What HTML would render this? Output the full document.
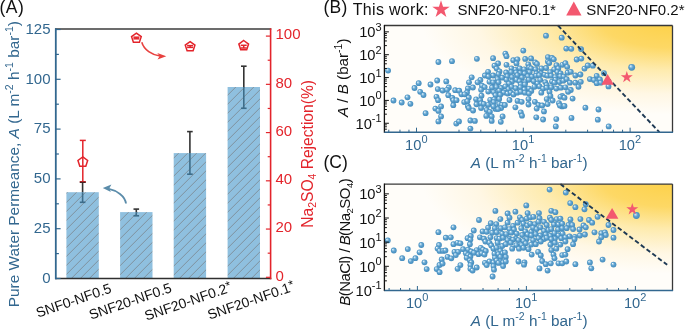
<!DOCTYPE html>
<html><head><meta charset="utf-8"><style>
html,body{margin:0;padding:0;background:#fff;}
svg{display:block;font-family:"Liberation Sans", sans-serif;will-change:transform;}
</style></head><body>
<svg width="685" height="330" viewBox="0 0 685 330">
<rect width="685" height="330" fill="#fff"/>
<text x="-0.6" y="12.8" font-size="17.5" letter-spacing="0.5" fill="#111">(A)</text>
<defs>
<pattern id="hatch" patternUnits="userSpaceOnUse" width="9" height="9" patternTransform="translate(-1.2,0)">
<rect width="9" height="9" fill="#8fc0df"/>
<path d="M-2,2 L2,-2 M0,9 L9,0 M7,11 L11,7" stroke="#7f919d" stroke-width="1.0"/>
</pattern>
<radialGradient id="goldB" gradientUnits="userSpaceOnUse" cx="672" cy="22" r="250" gradientTransform="translate(672 22) scale(1 0.37) translate(-672 -22)">
<stop offset="0" stop-color="#fdd148"/>
<stop offset="0.28" stop-color="#fdd865"/>
<stop offset="0.52" stop-color="#feebae"/>
<stop offset="0.78" stop-color="#fff7e4"/>
<stop offset="1" stop-color="#fffdf9"/>
</radialGradient>
<radialGradient id="goldC" gradientUnits="userSpaceOnUse" cx="672" cy="181" r="250" gradientTransform="translate(672 181) scale(1 0.37) translate(-672 -181)">
<stop offset="0" stop-color="#fdd148"/>
<stop offset="0.28" stop-color="#fdd865"/>
<stop offset="0.52" stop-color="#feebae"/>
<stop offset="0.78" stop-color="#fff7e4"/>
<stop offset="1" stop-color="#fffdf9"/>
</radialGradient>
<radialGradient id="ball" cx="0.5" cy="0.5" r="0.55" fx="0.32" fy="0.3">
<stop offset="0" stop-color="#fbfdff"/>
<stop offset="0.2" stop-color="#acd3ea"/>
<stop offset="0.5" stop-color="#5fa2cf"/>
<stop offset="1" stop-color="#3f88ba"/>
</radialGradient>
</defs>
<rect x="66.39999999999999" y="192.2" width="32.4" height="86.30000000000001" fill="url(#hatch)"/>
<line x1="82.6" y1="182" x2="82.6" y2="192.2" stroke="#333333" stroke-width="1.6"/>
<line x1="82.6" y1="192.2" x2="82.6" y2="202.3" stroke="#3d6d8a" stroke-width="1.6"/>
<line x1="79.8" y1="182" x2="85.39999999999999" y2="182" stroke="#333333" stroke-width="1.6"/>
<line x1="79.8" y1="202.3" x2="85.39999999999999" y2="202.3" stroke="#3d6d8a" stroke-width="1.6"/>
<rect x="120.10000000000001" y="212.1" width="32.4" height="66.4" fill="url(#hatch)"/>
<line x1="136.3" y1="209.1" x2="136.3" y2="212.1" stroke="#333333" stroke-width="1.6"/>
<line x1="136.3" y1="212.1" x2="136.3" y2="215.8" stroke="#3d6d8a" stroke-width="1.6"/>
<line x1="133.5" y1="209.1" x2="139.10000000000002" y2="209.1" stroke="#333333" stroke-width="1.6"/>
<line x1="133.5" y1="215.8" x2="139.10000000000002" y2="215.8" stroke="#3d6d8a" stroke-width="1.6"/>
<rect x="173.70000000000002" y="153.1" width="32.4" height="125.4" fill="url(#hatch)"/>
<line x1="189.9" y1="131.6" x2="189.9" y2="153.1" stroke="#333333" stroke-width="1.6"/>
<line x1="189.9" y1="153.1" x2="189.9" y2="174.2" stroke="#3d6d8a" stroke-width="1.6"/>
<line x1="187.1" y1="131.6" x2="192.70000000000002" y2="131.6" stroke="#333333" stroke-width="1.6"/>
<line x1="187.1" y1="174.2" x2="192.70000000000002" y2="174.2" stroke="#3d6d8a" stroke-width="1.6"/>
<rect x="227.60000000000002" y="87" width="32.4" height="191.5" fill="url(#hatch)"/>
<line x1="243.8" y1="66.2" x2="243.8" y2="87" stroke="#333333" stroke-width="1.6"/>
<line x1="243.8" y1="87" x2="243.8" y2="108.3" stroke="#3d6d8a" stroke-width="1.6"/>
<line x1="241.0" y1="66.2" x2="246.60000000000002" y2="66.2" stroke="#333333" stroke-width="1.6"/>
<line x1="241.0" y1="108.3" x2="246.60000000000002" y2="108.3" stroke="#3d6d8a" stroke-width="1.6"/>
<line x1="55" y1="29" x2="271.3" y2="29" stroke="#3b3b3b" stroke-width="1.5"/>
<line x1="55" y1="278.5" x2="271.3" y2="278.5" stroke="#2f2f2f" stroke-width="1.6"/>
<line x1="55.8" y1="28.3" x2="55.8" y2="279.3" stroke="#32678f" stroke-width="1.8"/>
<line x1="270.6" y1="28.3" x2="270.6" y2="279.3" stroke="#e3242b" stroke-width="1.6"/>
<line x1="55.8" y1="278.50" x2="60.6" y2="278.50" stroke="#32678f" stroke-width="1.2"/>
<text x="50.5" y="282.70" font-size="15" fill="#32678f" text-anchor="end">0</text>
<line x1="55.8" y1="228.70" x2="60.6" y2="228.70" stroke="#32678f" stroke-width="1.2"/>
<text x="50.5" y="232.90" font-size="15" fill="#32678f" text-anchor="end">25</text>
<line x1="55.8" y1="178.90" x2="60.6" y2="178.90" stroke="#32678f" stroke-width="1.2"/>
<text x="50.5" y="183.10" font-size="15" fill="#32678f" text-anchor="end">50</text>
<line x1="55.8" y1="129.10" x2="60.6" y2="129.10" stroke="#32678f" stroke-width="1.2"/>
<text x="50.5" y="133.30" font-size="15" fill="#32678f" text-anchor="end">75</text>
<line x1="55.8" y1="79.30" x2="60.6" y2="79.30" stroke="#32678f" stroke-width="1.2"/>
<text x="50.5" y="83.50" font-size="15" fill="#32678f" text-anchor="end">100</text>
<line x1="55.8" y1="29.50" x2="60.6" y2="29.50" stroke="#32678f" stroke-width="1.2"/>
<text x="50.5" y="33.70" font-size="15" fill="#32678f" text-anchor="end">125</text>
<line x1="55.8" y1="253.60" x2="58.9" y2="253.60" stroke="#32678f" stroke-width="1.2"/>
<line x1="55.8" y1="203.80" x2="58.9" y2="203.80" stroke="#32678f" stroke-width="1.2"/>
<line x1="55.8" y1="154.00" x2="58.9" y2="154.00" stroke="#32678f" stroke-width="1.2"/>
<line x1="55.8" y1="104.20" x2="58.9" y2="104.20" stroke="#32678f" stroke-width="1.2"/>
<line x1="55.8" y1="54.40" x2="58.9" y2="54.40" stroke="#32678f" stroke-width="1.2"/>
<line x1="270.6" y1="277.30" x2="265.9" y2="277.30" stroke="#e3242b" stroke-width="1.2"/>
<text x="275.5" y="280.50" font-size="15" fill="#e3242b">0</text>
<line x1="270.6" y1="229.06" x2="265.9" y2="229.06" stroke="#e3242b" stroke-width="1.2"/>
<text x="275.5" y="232.26" font-size="15" fill="#e3242b">20</text>
<line x1="270.6" y1="180.82" x2="265.9" y2="180.82" stroke="#e3242b" stroke-width="1.2"/>
<text x="275.5" y="184.02" font-size="15" fill="#e3242b">40</text>
<line x1="270.6" y1="132.58" x2="265.9" y2="132.58" stroke="#e3242b" stroke-width="1.2"/>
<text x="275.5" y="135.78" font-size="15" fill="#e3242b">60</text>
<line x1="270.6" y1="84.34" x2="265.9" y2="84.34" stroke="#e3242b" stroke-width="1.2"/>
<text x="275.5" y="87.54" font-size="15" fill="#e3242b">80</text>
<line x1="270.6" y1="36.10" x2="265.9" y2="36.10" stroke="#e3242b" stroke-width="1.2"/>
<text x="275.5" y="39.30" font-size="15" fill="#e3242b">100</text>
<line x1="270.6" y1="253.18" x2="267.7" y2="253.18" stroke="#e3242b" stroke-width="1.2"/>
<line x1="270.6" y1="204.94" x2="267.7" y2="204.94" stroke="#e3242b" stroke-width="1.2"/>
<line x1="270.6" y1="156.70" x2="267.7" y2="156.70" stroke="#e3242b" stroke-width="1.2"/>
<line x1="270.6" y1="108.46" x2="267.7" y2="108.46" stroke="#e3242b" stroke-width="1.2"/>
<line x1="270.6" y1="60.22" x2="267.7" y2="60.22" stroke="#e3242b" stroke-width="1.2"/>
<line x1="82.8" y1="140.4" x2="82.8" y2="181.8" stroke="#e3242b" stroke-width="1.5"/>
<line x1="79.8" y1="140.4" x2="85.8" y2="140.4" stroke="#e3242b" stroke-width="1.5"/>
<line x1="79.8" y1="181.8" x2="85.8" y2="181.8" stroke="#e3242b" stroke-width="1.5"/>
<polygon points="82.80,156.90 87.65,160.42 85.80,166.13 79.80,166.13 77.95,160.42" fill="none" stroke="#e3242b" stroke-width="1.5"/>
<line x1="136.4" y1="37.2" x2="136.4" y2="38.8" stroke="#e3242b" stroke-width="1.5"/>
<line x1="133.4" y1="37.2" x2="139.4" y2="37.2" stroke="#e3242b" stroke-width="1.5"/>
<line x1="133.4" y1="38.8" x2="139.4" y2="38.8" stroke="#e3242b" stroke-width="1.5"/>
<polygon points="136.40,33.10 141.25,36.62 139.40,42.33 133.40,42.33 131.55,36.62" fill="none" stroke="#e3242b" stroke-width="1.5"/>
<line x1="190.1" y1="45.6" x2="190.1" y2="47.4" stroke="#e3242b" stroke-width="1.5"/>
<line x1="187.1" y1="45.6" x2="193.1" y2="45.6" stroke="#e3242b" stroke-width="1.5"/>
<line x1="187.1" y1="47.4" x2="193.1" y2="47.4" stroke="#e3242b" stroke-width="1.5"/>
<polygon points="190.10,41.60 194.95,45.12 193.10,50.83 187.10,50.83 185.25,45.12" fill="none" stroke="#e3242b" stroke-width="1.5"/>
<line x1="243.7" y1="45.3" x2="243.7" y2="48.0" stroke="#e3242b" stroke-width="1.5"/>
<line x1="240.7" y1="45.3" x2="246.7" y2="45.3" stroke="#e3242b" stroke-width="1.5"/>
<line x1="240.7" y1="48.0" x2="246.7" y2="48.0" stroke="#e3242b" stroke-width="1.5"/>
<polygon points="243.70,40.50 248.55,44.02 246.70,49.73 240.70,49.73 238.85,44.02" fill="none" stroke="#e3242b" stroke-width="1.5"/>
<line x1="79.9" y1="182.3" x2="85.7" y2="182.3" stroke="#3a2020" stroke-width="1.1"/>
<path d="M126,203.5 C125,196 117,190.5 108,188.6" fill="none" stroke="#5b8caa" stroke-width="1.8"/>
<path d="M102.8,187.9 L111.4,184.6 L109.2,188.6 L110.9,191.9 Z" fill="#5b8caa"/>
<path d="M141.8,42.3 C144,50 152,55 160,56" fill="none" stroke="#e8413f" stroke-width="1.6"/>
<path d="M166.3,56.2 L157.3,53.0 L159.6,56.3 L157.5,59.4 Z" fill="#e8413f"/>
<text transform="translate(19.2,307.2) rotate(-90)" font-size="15.4" fill="#32678f">Pure Water Permeance, <tspan font-style="italic">A</tspan> (L m<tspan font-size="10.5" dy="-6">-2</tspan><tspan dy="6"> h</tspan><tspan font-size="10.5" dy="-6">-1</tspan><tspan dy="6"> bar</tspan><tspan font-size="10.5" dy="-6">-1</tspan><tspan dy="6">)</tspan></text>
<text transform="translate(313,227.8) rotate(-90)" font-size="15.6" fill="#e3242b">Na<tspan font-size="10.5" dy="3">2</tspan><tspan dy="-3">SO</tspan><tspan font-size="10.5" dy="3">4</tspan><tspan dy="-3"> Rejection(%)</tspan></text>
<text transform="translate(38,317.8) rotate(-19)" font-size="14" fill="#111">SNF0-NF0.5</text>
<text transform="translate(91,319.8) rotate(-19)" font-size="14" fill="#111">SNF20-NF0.5</text>
<text transform="translate(146.5,320.8) rotate(-19)" font-size="14" fill="#111">SNF20-NF0.2<tspan font-size='12.5' dy='-2.5'>*</tspan></text>
<text transform="translate(209.5,319.8) rotate(-19)" font-size="14" fill="#111">SNF20-NF0.1<tspan font-size='12.5' dy='-2.5'>*</tspan></text>
<rect x="384.4" y="25.5" width="288.1" height="106.69999999999999" fill="url(#goldB)"/>
<circle cx="388.1" cy="70.6" r="2.9" fill="url(#ball)"/>
<circle cx="438.4" cy="62.0" r="2.9" fill="url(#ball)"/>
<circle cx="437.2" cy="80.5" r="2.9" fill="url(#ball)"/>
<circle cx="418.7" cy="83.2" r="2.9" fill="url(#ball)"/>
<circle cx="430.5" cy="84.5" r="2.9" fill="url(#ball)"/>
<circle cx="414.5" cy="88.0" r="2.9" fill="url(#ball)"/>
<circle cx="420.2" cy="91.8" r="2.9" fill="url(#ball)"/>
<circle cx="423.5" cy="95.0" r="2.9" fill="url(#ball)"/>
<circle cx="437.8" cy="89.1" r="2.9" fill="url(#ball)"/>
<circle cx="442.6" cy="90.5" r="2.9" fill="url(#ball)"/>
<circle cx="436.5" cy="96.8" r="2.9" fill="url(#ball)"/>
<circle cx="438.1" cy="100.2" r="2.9" fill="url(#ball)"/>
<circle cx="407.5" cy="97.3" r="2.9" fill="url(#ball)"/>
<circle cx="393.5" cy="100.5" r="2.9" fill="url(#ball)"/>
<circle cx="401.7" cy="102.5" r="2.9" fill="url(#ball)"/>
<circle cx="410.4" cy="103.8" r="2.9" fill="url(#ball)"/>
<circle cx="441.1" cy="106.4" r="2.9" fill="url(#ball)"/>
<circle cx="435.4" cy="108.6" r="2.9" fill="url(#ball)"/>
<circle cx="425.6" cy="113.2" r="2.9" fill="url(#ball)"/>
<circle cx="438.5" cy="110.9" r="2.9" fill="url(#ball)"/>
<circle cx="441.1" cy="116.4" r="2.9" fill="url(#ball)"/>
<circle cx="438.4" cy="121.4" r="2.9" fill="url(#ball)"/>
<circle cx="452.0" cy="61.2" r="2.9" fill="url(#ball)"/>
<circle cx="476.9" cy="58.8" r="2.9" fill="url(#ball)"/>
<circle cx="493.1" cy="58.2" r="2.9" fill="url(#ball)"/>
<circle cx="498.1" cy="63.4" r="2.9" fill="url(#ball)"/>
<circle cx="494.5" cy="65.7" r="2.9" fill="url(#ball)"/>
<circle cx="496.7" cy="68.6" r="2.9" fill="url(#ball)"/>
<circle cx="499.5" cy="71.4" r="2.9" fill="url(#ball)"/>
<circle cx="488.1" cy="71.8" r="2.9" fill="url(#ball)"/>
<circle cx="484.9" cy="75.5" r="2.9" fill="url(#ball)"/>
<circle cx="493.1" cy="75.5" r="2.9" fill="url(#ball)"/>
<circle cx="488.5" cy="76.4" r="2.9" fill="url(#ball)"/>
<circle cx="498.5" cy="74.1" r="2.9" fill="url(#ball)"/>
<circle cx="502.2" cy="77.7" r="2.9" fill="url(#ball)"/>
<circle cx="471.7" cy="77.3" r="2.9" fill="url(#ball)"/>
<circle cx="480.4" cy="80.0" r="2.9" fill="url(#ball)"/>
<circle cx="477.6" cy="82.3" r="2.9" fill="url(#ball)"/>
<circle cx="469.0" cy="82.3" r="2.9" fill="url(#ball)"/>
<circle cx="446.3" cy="81.4" r="2.9" fill="url(#ball)"/>
<circle cx="497.6" cy="79.1" r="2.9" fill="url(#ball)"/>
<circle cx="489.5" cy="81.8" r="2.9" fill="url(#ball)"/>
<circle cx="493.1" cy="82.3" r="2.9" fill="url(#ball)"/>
<circle cx="498.5" cy="82.3" r="2.9" fill="url(#ball)"/>
<circle cx="448.8" cy="87.5" r="2.9" fill="url(#ball)"/>
<circle cx="467.9" cy="88.4" r="2.9" fill="url(#ball)"/>
<circle cx="472.9" cy="87.5" r="2.9" fill="url(#ball)"/>
<circle cx="482.0" cy="85.7" r="2.9" fill="url(#ball)"/>
<circle cx="484.7" cy="87.1" r="2.9" fill="url(#ball)"/>
<circle cx="492.0" cy="87.5" r="2.9" fill="url(#ball)"/>
<circle cx="496.5" cy="87.1" r="2.9" fill="url(#ball)"/>
<circle cx="501.1" cy="88.0" r="2.9" fill="url(#ball)"/>
<circle cx="455.2" cy="90.2" r="2.9" fill="url(#ball)"/>
<circle cx="459.2" cy="90.7" r="2.9" fill="url(#ball)"/>
<circle cx="447.0" cy="89.8" r="2.9" fill="url(#ball)"/>
<circle cx="467.0" cy="92.5" r="2.9" fill="url(#ball)"/>
<circle cx="481.1" cy="89.8" r="2.9" fill="url(#ball)"/>
<circle cx="488.3" cy="91.6" r="2.9" fill="url(#ball)"/>
<circle cx="493.8" cy="92.1" r="2.9" fill="url(#ball)"/>
<circle cx="499.2" cy="90.7" r="2.9" fill="url(#ball)"/>
<circle cx="503.8" cy="92.5" r="2.9" fill="url(#ball)"/>
<circle cx="448.3" cy="95.2" r="2.9" fill="url(#ball)"/>
<circle cx="461.5" cy="94.3" r="2.9" fill="url(#ball)"/>
<circle cx="464.7" cy="94.3" r="2.9" fill="url(#ball)"/>
<circle cx="468.8" cy="97.5" r="2.9" fill="url(#ball)"/>
<circle cx="481.5" cy="95.7" r="2.9" fill="url(#ball)"/>
<circle cx="495.6" cy="95.2" r="2.9" fill="url(#ball)"/>
<circle cx="500.2" cy="94.8" r="2.9" fill="url(#ball)"/>
<circle cx="452.4" cy="98.0" r="2.9" fill="url(#ball)"/>
<circle cx="453.3" cy="100.2" r="2.9" fill="url(#ball)"/>
<circle cx="456.5" cy="100.2" r="2.9" fill="url(#ball)"/>
<circle cx="464.2" cy="102.1" r="2.9" fill="url(#ball)"/>
<circle cx="467.4" cy="101.2" r="2.9" fill="url(#ball)"/>
<circle cx="476.1" cy="99.3" r="2.9" fill="url(#ball)"/>
<circle cx="480.2" cy="100.2" r="2.9" fill="url(#ball)"/>
<circle cx="490.2" cy="99.8" r="2.9" fill="url(#ball)"/>
<circle cx="494.2" cy="99.3" r="2.9" fill="url(#ball)"/>
<circle cx="493.8" cy="102.1" r="2.9" fill="url(#ball)"/>
<circle cx="499.2" cy="98.9" r="2.9" fill="url(#ball)"/>
<circle cx="453.3" cy="105.2" r="2.9" fill="url(#ball)"/>
<circle cx="467.9" cy="106.2" r="2.9" fill="url(#ball)"/>
<circle cx="476.5" cy="104.3" r="2.9" fill="url(#ball)"/>
<circle cx="481.1" cy="103.4" r="2.9" fill="url(#ball)"/>
<circle cx="483.8" cy="103.9" r="2.9" fill="url(#ball)"/>
<circle cx="488.3" cy="104.8" r="2.9" fill="url(#ball)"/>
<circle cx="499.2" cy="103.9" r="2.9" fill="url(#ball)"/>
<circle cx="502.0" cy="104.8" r="2.9" fill="url(#ball)"/>
<circle cx="468.8" cy="108.0" r="2.9" fill="url(#ball)"/>
<circle cx="481.1" cy="108.0" r="2.9" fill="url(#ball)"/>
<circle cx="495.6" cy="108.9" r="2.9" fill="url(#ball)"/>
<circle cx="501.1" cy="108.0" r="2.9" fill="url(#ball)"/>
<circle cx="473.1" cy="110.5" r="2.9" fill="url(#ball)"/>
<circle cx="486.7" cy="110.0" r="2.9" fill="url(#ball)"/>
<circle cx="489.9" cy="111.8" r="2.9" fill="url(#ball)"/>
<circle cx="486.3" cy="115.9" r="2.9" fill="url(#ball)"/>
<circle cx="491.7" cy="116.4" r="2.9" fill="url(#ball)"/>
<circle cx="491.7" cy="120.9" r="2.9" fill="url(#ball)"/>
<circle cx="493.5" cy="106.4" r="2.9" fill="url(#ball)"/>
<circle cx="498.1" cy="109.1" r="2.9" fill="url(#ball)"/>
<circle cx="502.6" cy="116.4" r="2.9" fill="url(#ball)"/>
<circle cx="500.8" cy="121.8" r="2.9" fill="url(#ball)"/>
<circle cx="456.3" cy="123.6" r="2.9" fill="url(#ball)"/>
<circle cx="459.0" cy="121.4" r="2.9" fill="url(#ball)"/>
<circle cx="470.4" cy="120.5" r="2.9" fill="url(#ball)"/>
<circle cx="474.9" cy="120.9" r="2.9" fill="url(#ball)"/>
<circle cx="470.4" cy="128.6" r="2.9" fill="url(#ball)"/>
<circle cx="546.0" cy="35.7" r="2.9" fill="url(#ball)"/>
<circle cx="561.7" cy="37.7" r="2.9" fill="url(#ball)"/>
<circle cx="523.3" cy="50.6" r="2.9" fill="url(#ball)"/>
<circle cx="505.4" cy="53.6" r="2.9" fill="url(#ball)"/>
<circle cx="506.5" cy="56.2" r="2.9" fill="url(#ball)"/>
<circle cx="513.3" cy="60.2" r="2.9" fill="url(#ball)"/>
<circle cx="517.4" cy="59.3" r="2.9" fill="url(#ball)"/>
<circle cx="525.2" cy="58.9" r="2.9" fill="url(#ball)"/>
<circle cx="531.1" cy="58.4" r="2.9" fill="url(#ball)"/>
<circle cx="547.9" cy="57.1" r="2.9" fill="url(#ball)"/>
<circle cx="552.0" cy="58.0" r="2.9" fill="url(#ball)"/>
<circle cx="553.8" cy="59.3" r="2.9" fill="url(#ball)"/>
<circle cx="506.5" cy="64.8" r="2.9" fill="url(#ball)"/>
<circle cx="516.5" cy="63.4" r="2.9" fill="url(#ball)"/>
<circle cx="528.3" cy="64.3" r="2.9" fill="url(#ball)"/>
<circle cx="535.2" cy="62.5" r="2.9" fill="url(#ball)"/>
<circle cx="537.0" cy="63.9" r="2.9" fill="url(#ball)"/>
<circle cx="547.9" cy="61.6" r="2.9" fill="url(#ball)"/>
<circle cx="549.2" cy="63.0" r="2.9" fill="url(#ball)"/>
<circle cx="556.5" cy="65.2" r="2.9" fill="url(#ball)"/>
<circle cx="562.4" cy="64.8" r="2.9" fill="url(#ball)"/>
<circle cx="511.5" cy="68.4" r="2.9" fill="url(#ball)"/>
<circle cx="515.6" cy="69.8" r="2.9" fill="url(#ball)"/>
<circle cx="519.7" cy="68.4" r="2.9" fill="url(#ball)"/>
<circle cx="524.2" cy="69.3" r="2.9" fill="url(#ball)"/>
<circle cx="529.2" cy="67.5" r="2.9" fill="url(#ball)"/>
<circle cx="531.1" cy="68.4" r="2.9" fill="url(#ball)"/>
<circle cx="535.6" cy="69.3" r="2.9" fill="url(#ball)"/>
<circle cx="541.5" cy="68.4" r="2.9" fill="url(#ball)"/>
<circle cx="546.1" cy="68.0" r="2.9" fill="url(#ball)"/>
<circle cx="554.2" cy="69.3" r="2.9" fill="url(#ball)"/>
<circle cx="558.3" cy="68.4" r="2.9" fill="url(#ball)"/>
<circle cx="506.1" cy="72.5" r="2.9" fill="url(#ball)"/>
<circle cx="511.1" cy="72.1" r="2.9" fill="url(#ball)"/>
<circle cx="516.1" cy="72.5" r="2.9" fill="url(#ball)"/>
<circle cx="520.2" cy="73.0" r="2.9" fill="url(#ball)"/>
<circle cx="524.7" cy="73.4" r="2.9" fill="url(#ball)"/>
<circle cx="529.7" cy="72.1" r="2.9" fill="url(#ball)"/>
<circle cx="536.5" cy="73.4" r="2.9" fill="url(#ball)"/>
<circle cx="541.1" cy="73.4" r="2.9" fill="url(#ball)"/>
<circle cx="550.2" cy="72.1" r="2.9" fill="url(#ball)"/>
<circle cx="557.4" cy="72.1" r="2.9" fill="url(#ball)"/>
<circle cx="560.6" cy="73.4" r="2.9" fill="url(#ball)"/>
<circle cx="507.4" cy="76.2" r="2.9" fill="url(#ball)"/>
<circle cx="512.0" cy="77.1" r="2.9" fill="url(#ball)"/>
<circle cx="517.4" cy="75.2" r="2.9" fill="url(#ball)"/>
<circle cx="522.0" cy="77.5" r="2.9" fill="url(#ball)"/>
<circle cx="527.9" cy="76.2" r="2.9" fill="url(#ball)"/>
<circle cx="532.0" cy="76.6" r="2.9" fill="url(#ball)"/>
<circle cx="536.1" cy="75.7" r="2.9" fill="url(#ball)"/>
<circle cx="539.2" cy="75.2" r="2.9" fill="url(#ball)"/>
<circle cx="544.7" cy="74.8" r="2.9" fill="url(#ball)"/>
<circle cx="547.4" cy="75.7" r="2.9" fill="url(#ball)"/>
<circle cx="551.1" cy="75.7" r="2.9" fill="url(#ball)"/>
<circle cx="555.2" cy="77.1" r="2.9" fill="url(#ball)"/>
<circle cx="560.2" cy="76.2" r="2.9" fill="url(#ball)"/>
<circle cx="563.8" cy="76.6" r="2.9" fill="url(#ball)"/>
<circle cx="506.5" cy="79.8" r="2.9" fill="url(#ball)"/>
<circle cx="512.0" cy="81.6" r="2.9" fill="url(#ball)"/>
<circle cx="516.5" cy="79.8" r="2.9" fill="url(#ball)"/>
<circle cx="519.7" cy="81.2" r="2.9" fill="url(#ball)"/>
<circle cx="525.2" cy="82.1" r="2.9" fill="url(#ball)"/>
<circle cx="528.8" cy="79.8" r="2.9" fill="url(#ball)"/>
<circle cx="533.8" cy="81.2" r="2.9" fill="url(#ball)"/>
<circle cx="540.2" cy="79.8" r="2.9" fill="url(#ball)"/>
<circle cx="545.2" cy="82.1" r="2.9" fill="url(#ball)"/>
<circle cx="552.0" cy="81.6" r="2.9" fill="url(#ball)"/>
<circle cx="555.6" cy="79.8" r="2.9" fill="url(#ball)"/>
<circle cx="559.2" cy="82.1" r="2.9" fill="url(#ball)"/>
<circle cx="563.3" cy="80.7" r="2.9" fill="url(#ball)"/>
<circle cx="509.0" cy="83.6" r="2.9" fill="url(#ball)"/>
<circle cx="520.8" cy="84.5" r="2.9" fill="url(#ball)"/>
<circle cx="524.9" cy="84.5" r="2.9" fill="url(#ball)"/>
<circle cx="537.6" cy="83.6" r="2.9" fill="url(#ball)"/>
<circle cx="546.7" cy="85.0" r="2.9" fill="url(#ball)"/>
<circle cx="554.5" cy="82.7" r="2.9" fill="url(#ball)"/>
<circle cx="505.4" cy="86.4" r="2.9" fill="url(#ball)"/>
<circle cx="508.5" cy="89.1" r="2.9" fill="url(#ball)"/>
<circle cx="511.7" cy="86.8" r="2.9" fill="url(#ball)"/>
<circle cx="515.8" cy="88.2" r="2.9" fill="url(#ball)"/>
<circle cx="520.4" cy="87.3" r="2.9" fill="url(#ball)"/>
<circle cx="524.5" cy="89.5" r="2.9" fill="url(#ball)"/>
<circle cx="529.0" cy="88.6" r="2.9" fill="url(#ball)"/>
<circle cx="531.3" cy="90.9" r="2.9" fill="url(#ball)"/>
<circle cx="534.5" cy="86.8" r="2.9" fill="url(#ball)"/>
<circle cx="539.5" cy="86.4" r="2.9" fill="url(#ball)"/>
<circle cx="543.1" cy="88.6" r="2.9" fill="url(#ball)"/>
<circle cx="546.7" cy="87.7" r="2.9" fill="url(#ball)"/>
<circle cx="551.3" cy="87.3" r="2.9" fill="url(#ball)"/>
<circle cx="556.3" cy="88.6" r="2.9" fill="url(#ball)"/>
<circle cx="560.8" cy="87.7" r="2.9" fill="url(#ball)"/>
<circle cx="507.6" cy="93.6" r="2.9" fill="url(#ball)"/>
<circle cx="510.8" cy="92.7" r="2.9" fill="url(#ball)"/>
<circle cx="513.5" cy="94.5" r="2.9" fill="url(#ball)"/>
<circle cx="517.2" cy="92.7" r="2.9" fill="url(#ball)"/>
<circle cx="520.8" cy="91.8" r="2.9" fill="url(#ball)"/>
<circle cx="524.9" cy="92.7" r="2.9" fill="url(#ball)"/>
<circle cx="529.0" cy="93.6" r="2.9" fill="url(#ball)"/>
<circle cx="541.3" cy="92.7" r="2.9" fill="url(#ball)"/>
<circle cx="549.5" cy="91.8" r="2.9" fill="url(#ball)"/>
<circle cx="550.4" cy="95.9" r="2.9" fill="url(#ball)"/>
<circle cx="562.2" cy="95.9" r="2.9" fill="url(#ball)"/>
<circle cx="509.5" cy="100.0" r="2.9" fill="url(#ball)"/>
<circle cx="517.6" cy="100.9" r="2.9" fill="url(#ball)"/>
<circle cx="521.7" cy="101.8" r="2.9" fill="url(#ball)"/>
<circle cx="528.5" cy="99.1" r="2.9" fill="url(#ball)"/>
<circle cx="534.9" cy="101.8" r="2.9" fill="url(#ball)"/>
<circle cx="546.7" cy="99.1" r="2.9" fill="url(#ball)"/>
<circle cx="552.6" cy="100.5" r="2.9" fill="url(#ball)"/>
<circle cx="560.4" cy="96.8" r="2.9" fill="url(#ball)"/>
<circle cx="504.9" cy="105.0" r="2.9" fill="url(#ball)"/>
<circle cx="515.4" cy="107.3" r="2.9" fill="url(#ball)"/>
<circle cx="528.5" cy="104.5" r="2.9" fill="url(#ball)"/>
<circle cx="538.5" cy="105.0" r="2.9" fill="url(#ball)"/>
<circle cx="542.2" cy="105.5" r="2.9" fill="url(#ball)"/>
<circle cx="547.6" cy="104.1" r="2.9" fill="url(#ball)"/>
<circle cx="559.0" cy="103.2" r="2.9" fill="url(#ball)"/>
<circle cx="562.2" cy="106.4" r="2.9" fill="url(#ball)"/>
<circle cx="536.7" cy="108.6" r="2.9" fill="url(#ball)"/>
<circle cx="520.8" cy="112.3" r="2.9" fill="url(#ball)"/>
<circle cx="522.0" cy="115.7" r="2.9" fill="url(#ball)"/>
<circle cx="544.0" cy="111.4" r="2.9" fill="url(#ball)"/>
<circle cx="536.3" cy="117.3" r="2.9" fill="url(#ball)"/>
<circle cx="543.1" cy="119.5" r="2.9" fill="url(#ball)"/>
<circle cx="556.3" cy="119.1" r="2.9" fill="url(#ball)"/>
<circle cx="555.8" cy="126.4" r="2.9" fill="url(#ball)"/>
<circle cx="559.9" cy="105.5" r="2.9" fill="url(#ball)"/>
<circle cx="566.3" cy="48.6" r="2.9" fill="url(#ball)"/>
<circle cx="571.3" cy="48.8" r="2.9" fill="url(#ball)"/>
<circle cx="581.1" cy="49.1" r="2.9" fill="url(#ball)"/>
<circle cx="576.7" cy="59.5" r="2.9" fill="url(#ball)"/>
<circle cx="581.3" cy="58.6" r="2.9" fill="url(#ball)"/>
<circle cx="565.4" cy="63.2" r="2.9" fill="url(#ball)"/>
<circle cx="567.2" cy="66.8" r="2.9" fill="url(#ball)"/>
<circle cx="584.5" cy="68.6" r="2.9" fill="url(#ball)"/>
<circle cx="587.8" cy="65.5" r="2.9" fill="url(#ball)"/>
<circle cx="592.9" cy="65.7" r="2.9" fill="url(#ball)"/>
<circle cx="567.6" cy="72.7" r="2.9" fill="url(#ball)"/>
<circle cx="570.8" cy="71.8" r="2.9" fill="url(#ball)"/>
<circle cx="575.4" cy="75.5" r="2.9" fill="url(#ball)"/>
<circle cx="580.4" cy="74.5" r="2.9" fill="url(#ball)"/>
<circle cx="604.0" cy="73.2" r="2.9" fill="url(#ball)"/>
<circle cx="596.7" cy="75.9" r="2.9" fill="url(#ball)"/>
<circle cx="589.9" cy="79.1" r="2.9" fill="url(#ball)"/>
<circle cx="594.0" cy="80.0" r="2.9" fill="url(#ball)"/>
<circle cx="599.9" cy="79.5" r="2.9" fill="url(#ball)"/>
<circle cx="566.7" cy="79.1" r="2.9" fill="url(#ball)"/>
<circle cx="569.9" cy="82.7" r="2.9" fill="url(#ball)"/>
<circle cx="575.4" cy="82.7" r="2.9" fill="url(#ball)"/>
<circle cx="580.8" cy="81.8" r="2.9" fill="url(#ball)"/>
<circle cx="596.7" cy="83.2" r="2.9" fill="url(#ball)"/>
<circle cx="578.5" cy="86.8" r="2.9" fill="url(#ball)"/>
<circle cx="565.4" cy="87.3" r="2.9" fill="url(#ball)"/>
<circle cx="570.8" cy="90.0" r="2.9" fill="url(#ball)"/>
<circle cx="568.1" cy="91.8" r="2.9" fill="url(#ball)"/>
<circle cx="564.5" cy="97.7" r="2.9" fill="url(#ball)"/>
<circle cx="572.6" cy="98.6" r="2.9" fill="url(#ball)"/>
<circle cx="564.5" cy="105.9" r="2.9" fill="url(#ball)"/>
<circle cx="585.4" cy="107.7" r="2.9" fill="url(#ball)"/>
<circle cx="598.5" cy="109.5" r="2.9" fill="url(#ball)"/>
<circle cx="600.8" cy="82.7" r="2.9" fill="url(#ball)"/>
<circle cx="608.5" cy="86.4" r="2.9" fill="url(#ball)"/>
<circle cx="571.5" cy="117.9" r="2.9" fill="url(#ball)"/>
<circle cx="597.8" cy="119.7" r="2.9" fill="url(#ball)"/>
<circle cx="608.7" cy="126.4" r="2.9" fill="url(#ball)"/>
<circle cx="631.7" cy="67.3" r="3.4" fill="url(#ball)"/>
<line x1="558" y1="25.5" x2="659.4" y2="132.2" stroke="#1e3954" stroke-width="1.9" stroke-dasharray="4.6,2.6"/>
<polygon points="607.6,73.9 601.3000000000001,84.8 613.9,84.8" fill="#f3586f"/>
<polygon points="626.80,70.90 628.21,75.25 632.79,75.25 629.09,77.94 630.50,82.30 626.80,79.61 623.10,82.30 624.51,77.94 620.81,75.25 625.39,75.25" fill="#f3586f"/>
<line x1="384.4" y1="25.5" x2="672.5" y2="25.5" stroke="#383838" stroke-width="1.3"/>
<line x1="672.5" y1="25.5" x2="672.5" y2="132.2" stroke="#383838" stroke-width="1.3"/>
<line x1="384.4" y1="24.9" x2="384.4" y2="132.79999999999998" stroke="#111" stroke-width="1.3"/>
<line x1="384.4" y1="132.2" x2="673.1" y2="132.2" stroke="#32678f" stroke-width="1.5"/>
<line x1="384.4" y1="129.18" x2="386.9" y2="129.18" stroke="#111" stroke-width="1"/>
<line x1="384.4" y1="126.79" x2="386.9" y2="126.79" stroke="#111" stroke-width="1"/>
<line x1="384.4" y1="124.86" x2="386.9" y2="124.86" stroke="#111" stroke-width="1"/>
<line x1="384.4" y1="123.25" x2="388.9" y2="123.25" stroke="#111" stroke-width="1"/>
<line x1="384.4" y1="114.16" x2="386.9" y2="114.16" stroke="#111" stroke-width="1"/>
<line x1="384.4" y1="109.49" x2="386.9" y2="109.49" stroke="#111" stroke-width="1"/>
<line x1="384.4" y1="106.33" x2="386.9" y2="106.33" stroke="#111" stroke-width="1"/>
<line x1="384.4" y1="103.94" x2="386.9" y2="103.94" stroke="#111" stroke-width="1"/>
<line x1="384.4" y1="102.01" x2="386.9" y2="102.01" stroke="#111" stroke-width="1"/>
<line x1="384.4" y1="100.40" x2="388.9" y2="100.40" stroke="#111" stroke-width="1"/>
<line x1="384.4" y1="91.31" x2="386.9" y2="91.31" stroke="#111" stroke-width="1"/>
<line x1="384.4" y1="86.64" x2="386.9" y2="86.64" stroke="#111" stroke-width="1"/>
<line x1="384.4" y1="83.48" x2="386.9" y2="83.48" stroke="#111" stroke-width="1"/>
<line x1="384.4" y1="81.09" x2="386.9" y2="81.09" stroke="#111" stroke-width="1"/>
<line x1="384.4" y1="79.16" x2="386.9" y2="79.16" stroke="#111" stroke-width="1"/>
<line x1="384.4" y1="77.55" x2="388.9" y2="77.55" stroke="#111" stroke-width="1"/>
<line x1="384.4" y1="68.46" x2="386.9" y2="68.46" stroke="#111" stroke-width="1"/>
<line x1="384.4" y1="63.79" x2="386.9" y2="63.79" stroke="#111" stroke-width="1"/>
<line x1="384.4" y1="60.63" x2="386.9" y2="60.63" stroke="#111" stroke-width="1"/>
<line x1="384.4" y1="58.24" x2="386.9" y2="58.24" stroke="#111" stroke-width="1"/>
<line x1="384.4" y1="56.31" x2="386.9" y2="56.31" stroke="#111" stroke-width="1"/>
<line x1="384.4" y1="54.70" x2="388.9" y2="54.70" stroke="#111" stroke-width="1"/>
<line x1="384.4" y1="45.61" x2="386.9" y2="45.61" stroke="#111" stroke-width="1"/>
<line x1="384.4" y1="40.94" x2="386.9" y2="40.94" stroke="#111" stroke-width="1"/>
<line x1="384.4" y1="37.78" x2="386.9" y2="37.78" stroke="#111" stroke-width="1"/>
<line x1="384.4" y1="35.39" x2="386.9" y2="35.39" stroke="#111" stroke-width="1"/>
<line x1="384.4" y1="33.46" x2="386.9" y2="33.46" stroke="#111" stroke-width="1"/>
<line x1="384.4" y1="31.85" x2="388.9" y2="31.85" stroke="#111" stroke-width="1"/>
<line x1="388.77" y1="132.2" x2="388.77" y2="129.7" stroke="#32678f" stroke-width="1"/>
<line x1="399.96" y1="132.2" x2="399.96" y2="129.7" stroke="#32678f" stroke-width="1"/>
<line x1="408.96" y1="132.2" x2="408.96" y2="129.7" stroke="#32678f" stroke-width="1"/>
<line x1="416.50" y1="132.2" x2="416.50" y2="127.69999999999999" stroke="#32678f" stroke-width="1"/>
<line x1="459.00" y1="132.2" x2="459.00" y2="129.7" stroke="#32678f" stroke-width="1"/>
<line x1="480.80" y1="132.2" x2="480.80" y2="129.7" stroke="#32678f" stroke-width="1"/>
<line x1="495.57" y1="132.2" x2="495.57" y2="129.7" stroke="#32678f" stroke-width="1"/>
<line x1="506.76" y1="132.2" x2="506.76" y2="129.7" stroke="#32678f" stroke-width="1"/>
<line x1="515.76" y1="132.2" x2="515.76" y2="129.7" stroke="#32678f" stroke-width="1"/>
<line x1="523.30" y1="132.2" x2="523.30" y2="127.69999999999999" stroke="#32678f" stroke-width="1"/>
<line x1="565.80" y1="132.2" x2="565.80" y2="129.7" stroke="#32678f" stroke-width="1"/>
<line x1="587.60" y1="132.2" x2="587.60" y2="129.7" stroke="#32678f" stroke-width="1"/>
<line x1="602.37" y1="132.2" x2="602.37" y2="129.7" stroke="#32678f" stroke-width="1"/>
<line x1="613.56" y1="132.2" x2="613.56" y2="129.7" stroke="#32678f" stroke-width="1"/>
<line x1="622.56" y1="132.2" x2="622.56" y2="129.7" stroke="#32678f" stroke-width="1"/>
<line x1="630.10" y1="132.2" x2="630.10" y2="127.69999999999999" stroke="#32678f" stroke-width="1"/>
<text x="416.3" y="149.6" font-size="14.7" fill="#32678f" text-anchor="middle">10<tspan font-size="11" dy="-6.5">0</tspan></text>
<text x="523.1" y="149.6" font-size="14.7" fill="#32678f" text-anchor="middle">10<tspan font-size="11" dy="-6.5">1</tspan></text>
<text x="629.9" y="149.6" font-size="14.7" fill="#32678f" text-anchor="middle">10<tspan font-size="11" dy="-6.5">2</tspan></text>
<text x="381.6" y="128.8" font-size="14.7" fill="#111" text-anchor="end">10<tspan font-size="11" dy="-6.5">-1</tspan></text>
<text x="381.6" y="105.9" font-size="14.7" fill="#111" text-anchor="end">10<tspan font-size="11" dy="-6.5">0</tspan></text>
<text x="381.6" y="83.1" font-size="14.7" fill="#111" text-anchor="end">10<tspan font-size="11" dy="-6.5">1</tspan></text>
<text x="381.6" y="60.2" font-size="14.7" fill="#111" text-anchor="end">10<tspan font-size="11" dy="-6.5">2</tspan></text>
<text x="381.6" y="37.3" font-size="14.7" fill="#111" text-anchor="end">10<tspan font-size="11" dy="-6.5">3</tspan></text>
<rect x="384.4" y="184.1" width="288.1" height="106.4" fill="url(#goldC)"/>
<circle cx="387.8" cy="240.4" r="2.9" fill="url(#ball)"/>
<circle cx="438.4" cy="232.2" r="2.9" fill="url(#ball)"/>
<circle cx="421.3" cy="245.0" r="2.9" fill="url(#ball)"/>
<circle cx="439.0" cy="245.0" r="2.9" fill="url(#ball)"/>
<circle cx="437.6" cy="248.6" r="2.9" fill="url(#ball)"/>
<circle cx="439.6" cy="250.9" r="2.9" fill="url(#ball)"/>
<circle cx="443.1" cy="250.9" r="2.9" fill="url(#ball)"/>
<circle cx="393.8" cy="250.5" r="2.9" fill="url(#ball)"/>
<circle cx="407.8" cy="249.1" r="2.9" fill="url(#ball)"/>
<circle cx="419.6" cy="252.3" r="2.9" fill="url(#ball)"/>
<circle cx="402.2" cy="258.2" r="2.9" fill="url(#ball)"/>
<circle cx="415.4" cy="258.2" r="2.9" fill="url(#ball)"/>
<circle cx="410.8" cy="261.1" r="2.9" fill="url(#ball)"/>
<circle cx="424.5" cy="262.3" r="2.9" fill="url(#ball)"/>
<circle cx="441.7" cy="259.5" r="2.9" fill="url(#ball)"/>
<circle cx="439.5" cy="265.0" r="2.9" fill="url(#ball)"/>
<circle cx="442.6" cy="263.6" r="2.9" fill="url(#ball)"/>
<circle cx="426.7" cy="269.1" r="2.9" fill="url(#ball)"/>
<circle cx="436.7" cy="269.1" r="2.9" fill="url(#ball)"/>
<circle cx="439.6" cy="272.2" r="2.9" fill="url(#ball)"/>
<circle cx="495.4" cy="210.9" r="2.9" fill="url(#ball)"/>
<circle cx="479.0" cy="220.0" r="2.9" fill="url(#ball)"/>
<circle cx="500.4" cy="219.1" r="2.9" fill="url(#ball)"/>
<circle cx="490.8" cy="223.2" r="2.9" fill="url(#ball)"/>
<circle cx="496.3" cy="224.1" r="2.9" fill="url(#ball)"/>
<circle cx="453.5" cy="227.3" r="2.9" fill="url(#ball)"/>
<circle cx="473.8" cy="230.5" r="2.9" fill="url(#ball)"/>
<circle cx="482.6" cy="231.4" r="2.9" fill="url(#ball)"/>
<circle cx="488.1" cy="227.7" r="2.9" fill="url(#ball)"/>
<circle cx="494.9" cy="228.2" r="2.9" fill="url(#ball)"/>
<circle cx="500.8" cy="228.2" r="2.9" fill="url(#ball)"/>
<circle cx="486.7" cy="231.8" r="2.9" fill="url(#ball)"/>
<circle cx="492.2" cy="232.7" r="2.9" fill="url(#ball)"/>
<circle cx="496.7" cy="232.3" r="2.9" fill="url(#ball)"/>
<circle cx="502.2" cy="233.6" r="2.9" fill="url(#ball)"/>
<circle cx="470.8" cy="235.9" r="2.9" fill="url(#ball)"/>
<circle cx="479.9" cy="237.3" r="2.9" fill="url(#ball)"/>
<circle cx="445.8" cy="237.7" r="2.9" fill="url(#ball)"/>
<circle cx="450.8" cy="237.3" r="2.9" fill="url(#ball)"/>
<circle cx="490.4" cy="237.3" r="2.9" fill="url(#ball)"/>
<circle cx="496.7" cy="238.2" r="2.9" fill="url(#ball)"/>
<circle cx="467.6" cy="238.2" r="2.9" fill="url(#ball)"/>
<circle cx="470.4" cy="239.6" r="2.9" fill="url(#ball)"/>
<circle cx="484.0" cy="238.7" r="2.9" fill="url(#ball)"/>
<circle cx="499.5" cy="238.7" r="2.9" fill="url(#ball)"/>
<circle cx="503.1" cy="237.8" r="2.9" fill="url(#ball)"/>
<circle cx="453.5" cy="244.2" r="2.9" fill="url(#ball)"/>
<circle cx="457.6" cy="242.8" r="2.9" fill="url(#ball)"/>
<circle cx="460.4" cy="243.3" r="2.9" fill="url(#ball)"/>
<circle cx="469.9" cy="244.2" r="2.9" fill="url(#ball)"/>
<circle cx="485.4" cy="241.5" r="2.9" fill="url(#ball)"/>
<circle cx="489.5" cy="242.8" r="2.9" fill="url(#ball)"/>
<circle cx="491.3" cy="245.5" r="2.9" fill="url(#ball)"/>
<circle cx="497.6" cy="242.8" r="2.9" fill="url(#ball)"/>
<circle cx="502.2" cy="246.0" r="2.9" fill="url(#ball)"/>
<circle cx="445.4" cy="250.5" r="2.9" fill="url(#ball)"/>
<circle cx="454.5" cy="251.9" r="2.9" fill="url(#ball)"/>
<circle cx="458.1" cy="251.9" r="2.9" fill="url(#ball)"/>
<circle cx="463.1" cy="249.2" r="2.9" fill="url(#ball)"/>
<circle cx="468.1" cy="249.6" r="2.9" fill="url(#ball)"/>
<circle cx="471.3" cy="251.5" r="2.9" fill="url(#ball)"/>
<circle cx="476.7" cy="250.1" r="2.9" fill="url(#ball)"/>
<circle cx="480.8" cy="247.8" r="2.9" fill="url(#ball)"/>
<circle cx="483.1" cy="249.6" r="2.9" fill="url(#ball)"/>
<circle cx="485.8" cy="251.0" r="2.9" fill="url(#ball)"/>
<circle cx="493.5" cy="248.7" r="2.9" fill="url(#ball)"/>
<circle cx="496.7" cy="247.8" r="2.9" fill="url(#ball)"/>
<circle cx="500.4" cy="251.0" r="2.9" fill="url(#ball)"/>
<circle cx="447.6" cy="256.9" r="2.9" fill="url(#ball)"/>
<circle cx="451.3" cy="258.3" r="2.9" fill="url(#ball)"/>
<circle cx="455.8" cy="255.1" r="2.9" fill="url(#ball)"/>
<circle cx="465.8" cy="253.3" r="2.9" fill="url(#ball)"/>
<circle cx="468.1" cy="255.1" r="2.9" fill="url(#ball)"/>
<circle cx="470.4" cy="256.5" r="2.9" fill="url(#ball)"/>
<circle cx="474.0" cy="252.8" r="2.9" fill="url(#ball)"/>
<circle cx="478.5" cy="254.2" r="2.9" fill="url(#ball)"/>
<circle cx="481.7" cy="253.3" r="2.9" fill="url(#ball)"/>
<circle cx="484.5" cy="254.6" r="2.9" fill="url(#ball)"/>
<circle cx="494.5" cy="253.7" r="2.9" fill="url(#ball)"/>
<circle cx="498.5" cy="254.2" r="2.9" fill="url(#ball)"/>
<circle cx="502.6" cy="253.3" r="2.9" fill="url(#ball)"/>
<circle cx="494.9" cy="257.8" r="2.9" fill="url(#ball)"/>
<circle cx="500.4" cy="256.9" r="2.9" fill="url(#ball)"/>
<circle cx="466.7" cy="257.8" r="2.9" fill="url(#ball)"/>
<circle cx="469.9" cy="260.5" r="2.9" fill="url(#ball)"/>
<circle cx="471.3" cy="262.4" r="2.9" fill="url(#ball)"/>
<circle cx="484.9" cy="262.8" r="2.9" fill="url(#ball)"/>
<circle cx="489.5" cy="261.5" r="2.9" fill="url(#ball)"/>
<circle cx="493.5" cy="262.4" r="2.9" fill="url(#ball)"/>
<circle cx="496.7" cy="260.5" r="2.9" fill="url(#ball)"/>
<circle cx="500.4" cy="261.5" r="2.9" fill="url(#ball)"/>
<circle cx="503.1" cy="262.4" r="2.9" fill="url(#ball)"/>
<circle cx="460.4" cy="265.1" r="2.9" fill="url(#ball)"/>
<circle cx="470.4" cy="265.1" r="2.9" fill="url(#ball)"/>
<circle cx="486.7" cy="265.1" r="2.9" fill="url(#ball)"/>
<circle cx="457.6" cy="268.8" r="2.9" fill="url(#ball)"/>
<circle cx="470.4" cy="268.8" r="2.9" fill="url(#ball)"/>
<circle cx="472.6" cy="270.6" r="2.9" fill="url(#ball)"/>
<circle cx="476.7" cy="267.5" r="2.9" fill="url(#ball)"/>
<circle cx="493.5" cy="266.1" r="2.9" fill="url(#ball)"/>
<circle cx="494.0" cy="269.7" r="2.9" fill="url(#ball)"/>
<circle cx="492.6" cy="276.5" r="2.9" fill="url(#ball)"/>
<circle cx="498.5" cy="262.9" r="2.9" fill="url(#ball)"/>
<circle cx="503.1" cy="266.1" r="2.9" fill="url(#ball)"/>
<circle cx="549.6" cy="189.6" r="2.9" fill="url(#ball)"/>
<circle cx="526.3" cy="205.4" r="2.9" fill="url(#ball)"/>
<circle cx="515.4" cy="211.7" r="2.9" fill="url(#ball)"/>
<circle cx="527.6" cy="213.1" r="2.9" fill="url(#ball)"/>
<circle cx="539.0" cy="213.1" r="2.9" fill="url(#ball)"/>
<circle cx="551.3" cy="210.8" r="2.9" fill="url(#ball)"/>
<circle cx="555.4" cy="212.2" r="2.9" fill="url(#ball)"/>
<circle cx="507.6" cy="213.5" r="2.9" fill="url(#ball)"/>
<circle cx="509.5" cy="217.7" r="2.9" fill="url(#ball)"/>
<circle cx="519.9" cy="217.3" r="2.9" fill="url(#ball)"/>
<circle cx="522.2" cy="220.0" r="2.9" fill="url(#ball)"/>
<circle cx="526.7" cy="218.6" r="2.9" fill="url(#ball)"/>
<circle cx="530.4" cy="217.3" r="2.9" fill="url(#ball)"/>
<circle cx="533.5" cy="216.8" r="2.9" fill="url(#ball)"/>
<circle cx="539.5" cy="218.2" r="2.9" fill="url(#ball)"/>
<circle cx="549.9" cy="217.7" r="2.9" fill="url(#ball)"/>
<circle cx="551.3" cy="220.0" r="2.9" fill="url(#ball)"/>
<circle cx="556.7" cy="219.1" r="2.9" fill="url(#ball)"/>
<circle cx="560.4" cy="218.6" r="2.9" fill="url(#ball)"/>
<circle cx="507.6" cy="222.7" r="2.9" fill="url(#ball)"/>
<circle cx="513.1" cy="225.9" r="2.9" fill="url(#ball)"/>
<circle cx="517.6" cy="222.7" r="2.9" fill="url(#ball)"/>
<circle cx="523.5" cy="223.6" r="2.9" fill="url(#ball)"/>
<circle cx="527.2" cy="225.5" r="2.9" fill="url(#ball)"/>
<circle cx="530.4" cy="223.6" r="2.9" fill="url(#ball)"/>
<circle cx="534.9" cy="224.1" r="2.9" fill="url(#ball)"/>
<circle cx="538.5" cy="221.8" r="2.9" fill="url(#ball)"/>
<circle cx="544.0" cy="221.8" r="2.9" fill="url(#ball)"/>
<circle cx="546.7" cy="225.0" r="2.9" fill="url(#ball)"/>
<circle cx="554.0" cy="224.5" r="2.9" fill="url(#ball)"/>
<circle cx="558.5" cy="224.5" r="2.9" fill="url(#ball)"/>
<circle cx="562.2" cy="223.6" r="2.9" fill="url(#ball)"/>
<circle cx="504.9" cy="227.3" r="2.9" fill="url(#ball)"/>
<circle cx="509.5" cy="229.1" r="2.9" fill="url(#ball)"/>
<circle cx="514.0" cy="229.5" r="2.9" fill="url(#ball)"/>
<circle cx="521.3" cy="228.2" r="2.9" fill="url(#ball)"/>
<circle cx="525.4" cy="231.4" r="2.9" fill="url(#ball)"/>
<circle cx="531.3" cy="231.8" r="2.9" fill="url(#ball)"/>
<circle cx="533.1" cy="227.7" r="2.9" fill="url(#ball)"/>
<circle cx="536.7" cy="229.1" r="2.9" fill="url(#ball)"/>
<circle cx="540.4" cy="227.3" r="2.9" fill="url(#ball)"/>
<circle cx="544.0" cy="230.9" r="2.9" fill="url(#ball)"/>
<circle cx="548.5" cy="230.0" r="2.9" fill="url(#ball)"/>
<circle cx="551.3" cy="229.1" r="2.9" fill="url(#ball)"/>
<circle cx="558.1" cy="229.5" r="2.9" fill="url(#ball)"/>
<circle cx="562.2" cy="228.2" r="2.9" fill="url(#ball)"/>
<circle cx="506.3" cy="234.1" r="2.9" fill="url(#ball)"/>
<circle cx="511.3" cy="232.7" r="2.9" fill="url(#ball)"/>
<circle cx="516.7" cy="233.6" r="2.9" fill="url(#ball)"/>
<circle cx="522.2" cy="235.0" r="2.9" fill="url(#ball)"/>
<circle cx="527.6" cy="234.5" r="2.9" fill="url(#ball)"/>
<circle cx="531.3" cy="235.5" r="2.9" fill="url(#ball)"/>
<circle cx="535.8" cy="234.1" r="2.9" fill="url(#ball)"/>
<circle cx="540.4" cy="235.5" r="2.9" fill="url(#ball)"/>
<circle cx="545.8" cy="234.5" r="2.9" fill="url(#ball)"/>
<circle cx="550.4" cy="235.9" r="2.9" fill="url(#ball)"/>
<circle cx="554.5" cy="233.2" r="2.9" fill="url(#ball)"/>
<circle cx="558.5" cy="235.5" r="2.9" fill="url(#ball)"/>
<circle cx="562.6" cy="233.6" r="2.9" fill="url(#ball)"/>
<circle cx="509.5" cy="238.6" r="2.9" fill="url(#ball)"/>
<circle cx="515.8" cy="238.6" r="2.9" fill="url(#ball)"/>
<circle cx="526.7" cy="239.1" r="2.9" fill="url(#ball)"/>
<circle cx="538.5" cy="238.2" r="2.9" fill="url(#ball)"/>
<circle cx="544.0" cy="239.1" r="2.9" fill="url(#ball)"/>
<circle cx="554.9" cy="238.6" r="2.9" fill="url(#ball)"/>
<circle cx="561.3" cy="238.2" r="2.9" fill="url(#ball)"/>
<circle cx="507.6" cy="240.1" r="2.9" fill="url(#ball)"/>
<circle cx="513.1" cy="239.6" r="2.9" fill="url(#ball)"/>
<circle cx="518.5" cy="240.1" r="2.9" fill="url(#ball)"/>
<circle cx="523.5" cy="241.0" r="2.9" fill="url(#ball)"/>
<circle cx="533.1" cy="240.1" r="2.9" fill="url(#ball)"/>
<circle cx="540.8" cy="241.5" r="2.9" fill="url(#ball)"/>
<circle cx="546.7" cy="237.8" r="2.9" fill="url(#ball)"/>
<circle cx="551.3" cy="239.2" r="2.9" fill="url(#ball)"/>
<circle cx="505.8" cy="244.2" r="2.9" fill="url(#ball)"/>
<circle cx="510.8" cy="242.8" r="2.9" fill="url(#ball)"/>
<circle cx="516.3" cy="245.1" r="2.9" fill="url(#ball)"/>
<circle cx="521.7" cy="245.1" r="2.9" fill="url(#ball)"/>
<circle cx="525.8" cy="243.3" r="2.9" fill="url(#ball)"/>
<circle cx="531.3" cy="244.6" r="2.9" fill="url(#ball)"/>
<circle cx="535.8" cy="244.2" r="2.9" fill="url(#ball)"/>
<circle cx="550.4" cy="244.6" r="2.9" fill="url(#ball)"/>
<circle cx="554.9" cy="242.8" r="2.9" fill="url(#ball)"/>
<circle cx="560.4" cy="244.6" r="2.9" fill="url(#ball)"/>
<circle cx="512.2" cy="248.7" r="2.9" fill="url(#ball)"/>
<circle cx="519.0" cy="248.7" r="2.9" fill="url(#ball)"/>
<circle cx="523.5" cy="247.8" r="2.9" fill="url(#ball)"/>
<circle cx="528.5" cy="249.2" r="2.9" fill="url(#ball)"/>
<circle cx="538.1" cy="251.9" r="2.9" fill="url(#ball)"/>
<circle cx="551.3" cy="250.1" r="2.9" fill="url(#ball)"/>
<circle cx="556.3" cy="248.7" r="2.9" fill="url(#ball)"/>
<circle cx="504.9" cy="252.4" r="2.9" fill="url(#ball)"/>
<circle cx="531.7" cy="254.6" r="2.9" fill="url(#ball)"/>
<circle cx="540.8" cy="255.5" r="2.9" fill="url(#ball)"/>
<circle cx="505.8" cy="256.9" r="2.9" fill="url(#ball)"/>
<circle cx="553.5" cy="254.6" r="2.9" fill="url(#ball)"/>
<circle cx="554.5" cy="258.3" r="2.9" fill="url(#ball)"/>
<circle cx="562.2" cy="255.1" r="2.9" fill="url(#ball)"/>
<circle cx="518.5" cy="261.5" r="2.9" fill="url(#ball)"/>
<circle cx="524.5" cy="262.4" r="2.9" fill="url(#ball)"/>
<circle cx="542.2" cy="261.0" r="2.9" fill="url(#ball)"/>
<circle cx="505.8" cy="261.5" r="2.9" fill="url(#ball)"/>
<circle cx="545.8" cy="264.2" r="2.9" fill="url(#ball)"/>
<circle cx="550.8" cy="263.3" r="2.9" fill="url(#ball)"/>
<circle cx="558.5" cy="263.3" r="2.9" fill="url(#ball)"/>
<circle cx="562.2" cy="263.3" r="2.9" fill="url(#ball)"/>
<circle cx="524.0" cy="264.7" r="2.9" fill="url(#ball)"/>
<circle cx="539.5" cy="268.4" r="2.9" fill="url(#ball)"/>
<circle cx="547.6" cy="270.6" r="2.9" fill="url(#ball)"/>
<circle cx="565.8" cy="192.6" r="2.9" fill="url(#ball)"/>
<circle cx="570.2" cy="203.1" r="2.9" fill="url(#ball)"/>
<circle cx="575.4" cy="207.2" r="2.9" fill="url(#ball)"/>
<circle cx="585.8" cy="204.2" r="2.9" fill="url(#ball)"/>
<circle cx="584.5" cy="209.3" r="2.9" fill="url(#ball)"/>
<circle cx="597.6" cy="216.8" r="2.9" fill="url(#ball)"/>
<circle cx="570.4" cy="219.5" r="2.9" fill="url(#ball)"/>
<circle cx="580.4" cy="219.1" r="2.9" fill="url(#ball)"/>
<circle cx="589.0" cy="220.0" r="2.9" fill="url(#ball)"/>
<circle cx="592.2" cy="222.7" r="2.9" fill="url(#ball)"/>
<circle cx="608.5" cy="225.0" r="2.9" fill="url(#ball)"/>
<circle cx="613.5" cy="230.0" r="2.9" fill="url(#ball)"/>
<circle cx="568.5" cy="225.0" r="2.9" fill="url(#ball)"/>
<circle cx="572.2" cy="225.0" r="2.9" fill="url(#ball)"/>
<circle cx="566.7" cy="228.2" r="2.9" fill="url(#ball)"/>
<circle cx="573.1" cy="229.1" r="2.9" fill="url(#ball)"/>
<circle cx="583.5" cy="225.5" r="2.9" fill="url(#ball)"/>
<circle cx="585.8" cy="227.3" r="2.9" fill="url(#ball)"/>
<circle cx="579.5" cy="229.5" r="2.9" fill="url(#ball)"/>
<circle cx="594.5" cy="232.3" r="2.9" fill="url(#ball)"/>
<circle cx="601.3" cy="233.2" r="2.9" fill="url(#ball)"/>
<circle cx="604.9" cy="232.3" r="2.9" fill="url(#ball)"/>
<circle cx="605.8" cy="235.0" r="2.9" fill="url(#ball)"/>
<circle cx="601.3" cy="237.3" r="2.9" fill="url(#ball)"/>
<circle cx="569.5" cy="236.4" r="2.9" fill="url(#ball)"/>
<circle cx="574.9" cy="236.8" r="2.9" fill="url(#ball)"/>
<circle cx="579.9" cy="235.5" r="2.9" fill="url(#ball)"/>
<circle cx="584.9" cy="234.5" r="2.9" fill="url(#ball)"/>
<circle cx="613.5" cy="237.7" r="2.9" fill="url(#ball)"/>
<circle cx="565.4" cy="237.3" r="2.9" fill="url(#ball)"/>
<circle cx="565.4" cy="241.5" r="2.9" fill="url(#ball)"/>
<circle cx="573.1" cy="244.2" r="2.9" fill="url(#ball)"/>
<circle cx="574.5" cy="239.2" r="2.9" fill="url(#ball)"/>
<circle cx="567.6" cy="249.2" r="2.9" fill="url(#ball)"/>
<circle cx="565.4" cy="254.6" r="2.9" fill="url(#ball)"/>
<circle cx="599.0" cy="241.5" r="2.9" fill="url(#ball)"/>
<circle cx="602.6" cy="259.6" r="2.9" fill="url(#ball)"/>
<circle cx="589.9" cy="262.4" r="2.9" fill="url(#ball)"/>
<circle cx="566.3" cy="261.5" r="2.9" fill="url(#ball)"/>
<circle cx="575.4" cy="264.2" r="2.9" fill="url(#ball)"/>
<circle cx="613.5" cy="264.6" r="2.9" fill="url(#ball)"/>
<circle cx="591.3" cy="268.3" r="2.9" fill="url(#ball)"/>
<circle cx="636.4" cy="215.5" r="3.4" fill="url(#ball)"/>
<line x1="560.4" y1="184.1" x2="667.2" y2="264.8" stroke="#1e3954" stroke-width="1.9" stroke-dasharray="4.6,2.6"/>
<polygon points="612.1,207.9 605.8000000000001,218.8 618.4,218.8" fill="#f3586f"/>
<polygon points="632.30,203.00 633.71,207.35 638.29,207.35 634.59,210.04 636.00,214.40 632.30,211.71 628.60,214.40 630.01,210.04 626.31,207.35 630.89,207.35" fill="#f3586f"/>
<line x1="384.4" y1="184.1" x2="672.5" y2="184.1" stroke="#383838" stroke-width="1.3"/>
<line x1="672.5" y1="184.1" x2="672.5" y2="290.5" stroke="#383838" stroke-width="1.3"/>
<line x1="384.4" y1="183.5" x2="384.4" y2="291.1" stroke="#111" stroke-width="1.3"/>
<line x1="384.4" y1="290.5" x2="673.1" y2="290.5" stroke="#32678f" stroke-width="1.5"/>
<line x1="384.4" y1="280.84" x2="386.9" y2="280.84" stroke="#111" stroke-width="1"/>
<line x1="384.4" y1="275.91" x2="386.9" y2="275.91" stroke="#111" stroke-width="1"/>
<line x1="384.4" y1="272.57" x2="386.9" y2="272.57" stroke="#111" stroke-width="1"/>
<line x1="384.4" y1="270.04" x2="386.9" y2="270.04" stroke="#111" stroke-width="1"/>
<line x1="384.4" y1="268.00" x2="386.9" y2="268.00" stroke="#111" stroke-width="1"/>
<line x1="384.4" y1="266.30" x2="388.9" y2="266.30" stroke="#111" stroke-width="1"/>
<line x1="384.4" y1="256.69" x2="386.9" y2="256.69" stroke="#111" stroke-width="1"/>
<line x1="384.4" y1="251.76" x2="386.9" y2="251.76" stroke="#111" stroke-width="1"/>
<line x1="384.4" y1="248.42" x2="386.9" y2="248.42" stroke="#111" stroke-width="1"/>
<line x1="384.4" y1="245.89" x2="386.9" y2="245.89" stroke="#111" stroke-width="1"/>
<line x1="384.4" y1="243.85" x2="386.9" y2="243.85" stroke="#111" stroke-width="1"/>
<line x1="384.4" y1="242.15" x2="388.9" y2="242.15" stroke="#111" stroke-width="1"/>
<line x1="384.4" y1="232.54" x2="386.9" y2="232.54" stroke="#111" stroke-width="1"/>
<line x1="384.4" y1="227.61" x2="386.9" y2="227.61" stroke="#111" stroke-width="1"/>
<line x1="384.4" y1="224.27" x2="386.9" y2="224.27" stroke="#111" stroke-width="1"/>
<line x1="384.4" y1="221.74" x2="386.9" y2="221.74" stroke="#111" stroke-width="1"/>
<line x1="384.4" y1="219.70" x2="386.9" y2="219.70" stroke="#111" stroke-width="1"/>
<line x1="384.4" y1="218.00" x2="388.9" y2="218.00" stroke="#111" stroke-width="1"/>
<line x1="384.4" y1="208.39" x2="386.9" y2="208.39" stroke="#111" stroke-width="1"/>
<line x1="384.4" y1="203.46" x2="386.9" y2="203.46" stroke="#111" stroke-width="1"/>
<line x1="384.4" y1="200.12" x2="386.9" y2="200.12" stroke="#111" stroke-width="1"/>
<line x1="384.4" y1="197.59" x2="386.9" y2="197.59" stroke="#111" stroke-width="1"/>
<line x1="384.4" y1="195.55" x2="386.9" y2="195.55" stroke="#111" stroke-width="1"/>
<line x1="384.4" y1="193.85" x2="388.9" y2="193.85" stroke="#111" stroke-width="1"/>
<line x1="389.10" y1="290.5" x2="389.10" y2="288.0" stroke="#32678f" stroke-width="1"/>
<line x1="400.52" y1="290.5" x2="400.52" y2="288.0" stroke="#32678f" stroke-width="1"/>
<line x1="409.71" y1="290.5" x2="409.71" y2="288.0" stroke="#32678f" stroke-width="1"/>
<line x1="417.40" y1="290.5" x2="417.40" y2="286.0" stroke="#32678f" stroke-width="1"/>
<line x1="460.78" y1="290.5" x2="460.78" y2="288.0" stroke="#32678f" stroke-width="1"/>
<line x1="483.02" y1="290.5" x2="483.02" y2="288.0" stroke="#32678f" stroke-width="1"/>
<line x1="498.10" y1="290.5" x2="498.10" y2="288.0" stroke="#32678f" stroke-width="1"/>
<line x1="509.52" y1="290.5" x2="509.52" y2="288.0" stroke="#32678f" stroke-width="1"/>
<line x1="518.71" y1="290.5" x2="518.71" y2="288.0" stroke="#32678f" stroke-width="1"/>
<line x1="526.40" y1="290.5" x2="526.40" y2="286.0" stroke="#32678f" stroke-width="1"/>
<line x1="569.78" y1="290.5" x2="569.78" y2="288.0" stroke="#32678f" stroke-width="1"/>
<line x1="592.02" y1="290.5" x2="592.02" y2="288.0" stroke="#32678f" stroke-width="1"/>
<line x1="607.10" y1="290.5" x2="607.10" y2="288.0" stroke="#32678f" stroke-width="1"/>
<line x1="618.52" y1="290.5" x2="618.52" y2="288.0" stroke="#32678f" stroke-width="1"/>
<line x1="627.71" y1="290.5" x2="627.71" y2="288.0" stroke="#32678f" stroke-width="1"/>
<line x1="635.40" y1="290.5" x2="635.40" y2="286.0" stroke="#32678f" stroke-width="1"/>
<text x="417.2" y="307.9" font-size="14.7" fill="#32678f" text-anchor="middle">10<tspan font-size="11" dy="-6.5">0</tspan></text>
<text x="526.2" y="307.9" font-size="14.7" fill="#32678f" text-anchor="middle">10<tspan font-size="11" dy="-6.5">1</tspan></text>
<text x="635.2" y="307.9" font-size="14.7" fill="#32678f" text-anchor="middle">10<tspan font-size="11" dy="-6.5">2</tspan></text>
<text x="381.6" y="295.9" font-size="14.7" fill="#111" text-anchor="end">10<tspan font-size="11" dy="-6.5">-1</tspan></text>
<text x="381.6" y="271.8" font-size="14.7" fill="#111" text-anchor="end">10<tspan font-size="11" dy="-6.5">0</tspan></text>
<text x="381.6" y="247.7" font-size="14.7" fill="#111" text-anchor="end">10<tspan font-size="11" dy="-6.5">1</tspan></text>
<text x="381.6" y="223.5" font-size="14.7" fill="#111" text-anchor="end">10<tspan font-size="11" dy="-6.5">2</tspan></text>
<text x="381.6" y="199.4" font-size="14.7" fill="#111" text-anchor="end">10<tspan font-size="11" dy="-6.5">3</tspan></text>
<text x="323.4" y="12.8" font-size="17.5" letter-spacing="0.3" fill="#111">(B)</text>
<text x="352.8" y="15" font-size="16" letter-spacing="0.3" fill="#111">This work:</text>
<polygon points="441.00,0.30 443.07,6.66 449.75,6.66 444.34,10.59 446.41,16.94 441.00,13.01 435.59,16.94 437.66,10.59 432.25,6.66 438.93,6.66" fill="#f3586f"/>
<text x="457.6" y="14.6" font-size="15" fill="#111">SNF20-NF0.1*</text>
<polygon points="573.8,1.6 566.2,15.4 581.5,15.4" fill="#f3586f"/>
<text x="586.2" y="14.6" font-size="15" fill="#111">SNF20-NF0.2*</text>
<text x="323.4" y="168.4" font-size="17.5" letter-spacing="0.1" fill="#111">(C)</text>
<text x="529.2" y="168.0" font-size="15.3" fill="#32678f" text-anchor="middle"><tspan font-style="italic">A</tspan> (L m<tspan font-size="10.5" dy="-6.5">-2</tspan><tspan dy="6.5"> h</tspan><tspan font-size="10.5" dy="-6.5">-1</tspan><tspan dy="6.5"> bar</tspan><tspan font-size="10.5" dy="-6.5">-1</tspan><tspan dy="6.5">)</tspan></text>
<text x="529.2" y="326.0" font-size="15.3" fill="#32678f" text-anchor="middle"><tspan font-style="italic">A</tspan> (L m<tspan font-size="10.5" dy="-6.5">-2</tspan><tspan dy="6.5"> h</tspan><tspan font-size="10.5" dy="-6.5">-1</tspan><tspan dy="6.5"> bar</tspan><tspan font-size="10.5" dy="-6.5">-1</tspan><tspan dy="6.5">)</tspan></text>
<text transform="translate(348.3,77.8) rotate(-90)" font-size="15.2" fill="#111" text-anchor="middle"><tspan font-style="italic">A</tspan> / <tspan font-style="italic">B</tspan> (bar<tspan font-size="10.5" dy="-6.5">-1</tspan><tspan dy="6.5">)</tspan></text>
<text transform="translate(350.3,242.3) rotate(-90)" font-size="15" letter-spacing="-0.55" fill="#111" text-anchor="middle"><tspan font-style="italic">B</tspan>(NaCl) / <tspan font-style="italic">B</tspan>(Na<tspan font-size="9.5" dy="3">2</tspan><tspan dy="-3">SO</tspan><tspan font-size="9.5" dy="3">4</tspan><tspan dy="-3">)</tspan></text>
</svg>
</body></html>
